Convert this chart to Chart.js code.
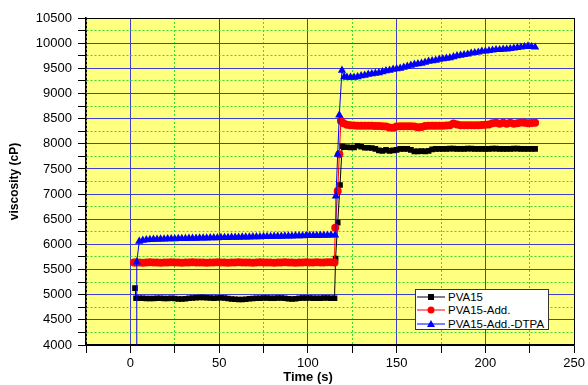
<!DOCTYPE html>
<html>
<head>
<meta charset="utf-8">
<script src="https://cdn.jsdelivr.net/npm/chart.js@4.4.1/dist/chart.umd.min.js"></script>
<style>
  body { margin: 0; background: #fff; }
  #wrap { position: relative; width: 588px; height: 385px; }
  #xtitle { position: absolute; left: 308px; top: 369px; transform: translateX(-50%);
    font: bold 13px "Liberation Sans", Arial, sans-serif; color: #000; white-space: nowrap; }
  #legend { position: absolute; left: 415px; top: 289px; width: 132px; height: 39px;
    background: #fff; border: 1px solid #333; font: 11.5px "Liberation Sans", Arial, sans-serif; }
  #legend .row { position: absolute; left: 1px; height: 13px; display: flex; align-items: center; }
  #legend svg { margin-right: 3px; }
</style>
</head>
<body>
<div id="wrap">
  <canvas id="myChart" width="588" height="385"></canvas>
  <div id="xtitle">Time (s)</div>
  <div id="legend"></div>
</div>
<script>
// values (time in s, viscosity in cP)
const seriesNames = ["PVA15", "PVA15-Add.", "PVA15-Add.-DTPA"]

const earlyTime = [5, 7, 9, 11, 13, 15, 17, 19, 21, 23, 25, 27, 29, 31, 33, 35, 37, 39, 41, 43,
  45, 47, 49, 51, 53, 55, 57, 59, 61, 63, 65, 67, 69, 71, 73, 75, 77, 79, 81, 83,
  85, 87, 89, 91, 93, 95, 97, 99, 101, 103, 105, 107, 109, 111, 113]
const lateTime = [122, 124, 126, 128, 130, 132, 134, 136, 138, 140, 142, 144, 146, 148, 150, 152, 154, 156, 158, 160,
  162, 164, 166, 168, 170, 172, 174, 176, 178, 180, 182, 184, 186, 188, 190, 192, 194, 196, 198, 200,
  202, 204, 206, 208, 210, 212, 214, 216, 218, 220, 222, 224, 226, 228]

// PVA15
const pva15StartTime = [2.6, 3.2]
const pva15Start = [5130, 4930]
const pva15Early = [4930, 4930, 4925, 4925, 4925, 4930, 4930, 4925, 4925, 4930,
  4925, 4915, 4915, 4920, 4930, 4935, 4940, 4945, 4945, 4940,
  4935, 4930, 4935, 4940, 4935, 4925, 4915, 4910, 4905, 4905,
  4910, 4920, 4925, 4930, 4930, 4935, 4935, 4930, 4930, 4935,
  4935, 4930, 4920, 4915, 4920, 4930, 4935, 4935, 4935, 4930,
  4930, 4930, 4935, 4935, 4930]
const pva15JumpTime = [115, 115.6, 116.8, 118.1, 119.3, 120.3]
const pva15Jump = [4930, 5720, 6430, 7180, 7950, 7930]
const pva15Late = [7930, 7925, 7925, 7960, 7940, 7920, 7920, 7915, 7900, 7870,
  7860, 7880, 7860, 7870, 7880, 7900, 7900, 7900, 7880, 7850,
  7850, 7855, 7850, 7860, 7890, 7900, 7900, 7900, 7900, 7905,
  7905, 7900, 7900, 7900, 7905, 7905, 7900, 7900, 7900, 7900,
  7900, 7905, 7905, 7900, 7900, 7900, 7900, 7905, 7905, 7900,
  7900, 7900, 7900, 7900]

// PVA15-Add.
const addStartTime = [2, 3.2]
const addStart = [5640, 5640]
const addEarly = [5640, 5635, 5640, 5645, 5640, 5640, 5635, 5640, 5640, 5645,
  5640, 5640, 5635, 5640, 5640, 5645, 5640, 5640, 5640, 5635,
  5640, 5640, 5645, 5640, 5640, 5635, 5640, 5640, 5645, 5640,
  5640, 5640, 5635, 5640, 5645, 5640, 5640, 5640, 5635, 5640,
  5640, 5645, 5640, 5640, 5635, 5640, 5640, 5645, 5640, 5640,
  5645, 5640, 5640, 5645, 5645]
const addJumpTime = [115, 115.4, 116.8, 117.7, 118.6, 120]
const addJump = [5640, 6330, 7060, 7790, 8460, 8410]
const addLate = [8380, 8370, 8365, 8360, 8360, 8360, 8360, 8360, 8355, 8355,
  8350, 8345, 8325, 8320, 8345, 8350, 8350, 8350, 8350, 8345,
  8330, 8335, 8355, 8360, 8360, 8360, 8360, 8360, 8365, 8370,
  8405, 8385, 8370, 8370, 8370, 8370, 8370, 8370, 8375, 8380,
  8385, 8410, 8420, 8400, 8420, 8400, 8420, 8400, 8410, 8425,
  8420, 8410, 8415, 8420]

// PVA15-Add.-DTPA
const dtpaStartTime = [3.3, 3.6]
const dtpaStart = [3000, 5650]
const dtpaEarly = [6060, 6080, 6090, 6095, 6100, 6100, 6105, 6105, 6110, 6110,
  6110, 6115, 6115, 6115, 6120, 6120, 6120, 6125, 6125, 6125,
  6130, 6130, 6130, 6135, 6135, 6135, 6140, 6140, 6140, 6145,
  6145, 6145, 6150, 6150, 6150, 6155, 6155, 6155, 6160, 6160,
  6160, 6165, 6165, 6165, 6170, 6170, 6170, 6175, 6175, 6175,
  6175, 6180, 6180, 6180, 6185]
const dtpaJumpTime = [115.3, 115.8, 116.8, 117.7, 119.2, 120.5]
const dtpaJump = [6185, 6960, 7790, 8570, 9460, 9330]
const dtpaLate = [9320, 9320, 9320, 9330, 9350, 9360, 9380, 9390, 9400, 9410,
  9430, 9450, 9460, 9480, 9490, 9500, 9520, 9540, 9560, 9580,
  9590, 9600, 9620, 9640, 9650, 9660, 9680, 9690, 9700, 9710,
  9730, 9750, 9760, 9770, 9780, 9800, 9810, 9820, 9840, 9840,
  9850, 9860, 9870, 9870, 9880, 9880, 9890, 9900, 9910, 9920,
  9930, 9940, 9930, 9920]

// axis ticks
const xMin = -25, xMax = 250, xStep = 25, xLabelStep = 50
const yMin = 4000, yMax = 10500, yStep = 250, yLabelStep = 500

function joinPoints(parts) {
  let pts = []
  parts.forEach(p => {
    p[0].forEach((t, i) => pts.push({x: t, y: p[1][i]}))
  })
  return pts
}

const colors = ["#000000", "#ff0000", "#0000ff"]
const markers = ["rect", "circle", "triangle"]
const sizes = [4, 4, 4.8]

const allData = [
  joinPoints([[pva15StartTime, pva15Start], [earlyTime, pva15Early], [pva15JumpTime, pva15Jump], [lateTime, pva15Late]]),
  joinPoints([[addStartTime, addStart], [earlyTime, addEarly], [addJumpTime, addJump], [lateTime, addLate]]),
  joinPoints([[dtpaStartTime, dtpaStart], [earlyTime, dtpaEarly], [dtpaJumpTime, dtpaJump], [lateTime, dtpaLate]])
]

const plotBg = {
  id: "plotBg",
  beforeDraw(chart) {
    const a = chart.chartArea
    const c = chart.ctx
    c.save()
    c.fillStyle = "#ffff80"
    c.fillRect(a.left, a.top, a.right - a.left, a.bottom - a.top)
    c.restore()
  }
}

function gridColor(ctx, min, max, major) {
  if (!ctx.tick) return "#000"
  const v = ctx.tick.value
  if (v === min || v === max) return "#000"
  if (v % major === 0) return "#3f3fd0"
  return "#33dd33"
}
function gridDash(ctx, major) {
  if (!ctx.tick) return []
  return ctx.tick.value % major === 0 ? [] : [2, 2]
}

Chart.defaults.color = "#000"
Chart.defaults.font.family = "'Liberation Sans', Arial, sans-serif"

const ctx = document.getElementById("myChart").getContext("2d")
const myChart = new Chart(ctx, {
  type: "line",
  data: {
    datasets: seriesNames.map((name, i) => ({
      label: name,
      data: allData[i],
      borderColor: colors[i],
      backgroundColor: colors[i],
      borderWidth: 1,
      pointStyle: markers[i],
      pointRadius: sizes[i],
      pointBorderWidth: 0,
      pointHoverRadius: sizes[i],
      tension: 0,
      order: 3 - i
    }))
  },
  options: {
    responsive: false,
    animation: false,
    devicePixelRatio: 1,
    layout: { padding: { left: 0, right: 10, top: 18, bottom: 0 } },
    plugins: {
      legend: { display: false },
      tooltip: { enabled: false }
    },
    scales: {
      x: {
        type: "linear",
        min: xMin, max: xMax,
        afterFit: s => { s.height = 40 },
        ticks: {
          stepSize: xStep, autoSkip: false, maxRotation: 0, padding: 3,
          font: { size: 13 },
          callback: v => (v % xLabelStep === 0 ? String(v) : "")
        },
        grid: {
          color: c => gridColor(c, xMin, xMax, xLabelStep),
          tickColor: "#000", tickLength: 8, lineWidth: 1
        },
        border: { color: "#000", width: 1.5, dash: c => gridDash(c, xLabelStep) }
      },
      y: {
        min: yMin, max: yMax,
        afterFit: s => { s.width = 86 },
        ticks: {
          stepSize: yStep, autoSkip: false, padding: 6,
          font: { size: 13 },
          callback: v => (v % yLabelStep === 0 ? String(v) : "")
        },
        grid: {
          color: c => gridColor(c, yMin, yMax, yLabelStep),
          tickColor: "#000", tickLength: 8, lineWidth: 1
        },
        border: { color: "#000", width: 1.5, dash: c => gridDash(c, yLabelStep) },
        title: {
          display: true, text: "viscosity (cP)",
          font: { size: 12, weight: "bold" },
          padding: { top: 7, bottom: 0 }
        }
      }
    }
  },
  plugins: [plotBg]
})

// legend box in the lower right of the plot
const legend = document.getElementById("legend")
seriesNames.forEach((name, i) => {
  const row = document.createElement("div")
  row.className = "row"
  row.style.top = (i * 13.5) + "px"
  let mark
  if (markers[i] === "rect") mark = `<rect x="11" y="3" width="6" height="6" fill="${colors[i]}"/>`
  else if (markers[i] === "circle") mark = `<circle cx="14" cy="6" r="3.5" fill="${colors[i]}"/>`
  else mark = `<polygon points="14,2 18,9 10,9" fill="${colors[i]}"/>`
  row.innerHTML = `<svg width="28" height="12"><line x1="0" y1="6" x2="28" y2="6" stroke="${colors[i]}" stroke-width="1"/>${mark}</svg><span>${name}</span>`
  legend.appendChild(row)
})
</script>
</body>
</html>
